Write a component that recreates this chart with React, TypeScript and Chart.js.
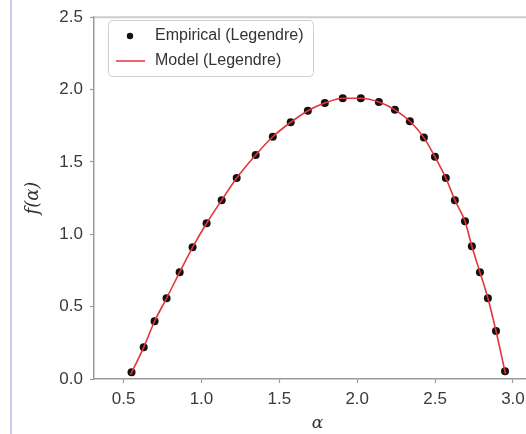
import React, { useEffect, useRef } from 'react';
import { Chart, registerables } from 'chart.js';

Chart.register(...registerables);

// Empirical f(alpha) spectrum
const alphaValues = [0.551, 0.629, 0.699, 0.776, 0.860, 0.943, 1.033, 1.130, 1.226, 1.348, 1.458, 1.573, 1.683, 1.792, 1.907, 2.023, 2.139, 2.242, 2.338, 2.428, 2.499, 2.569, 2.627, 2.692, 2.736, 2.788, 2.839, 2.891, 2.949];
const fValues = [0.047, 0.219, 0.399, 0.558, 0.738, 0.910, 1.076, 1.236, 1.389, 1.548, 1.674, 1.774, 1.854, 1.907, 1.940, 1.940, 1.914, 1.860, 1.781, 1.668, 1.535, 1.389, 1.236, 1.090, 0.917, 0.738, 0.558, 0.332, 0.053];

// Model curve (passes through the empirical points)
const modelAlpha = [0.545, 0.629, 0.699, 0.776, 0.860, 0.943, 1.033, 1.130, 1.226, 1.348, 1.458, 1.573, 1.683, 1.792, 1.907, 2.023, 2.139, 2.242, 2.338, 2.428, 2.499, 2.569, 2.627, 2.692, 2.736, 2.788, 2.839, 2.891, 2.952];
const modelF = [0.030, 0.219, 0.399, 0.558, 0.738, 0.910, 1.076, 1.236, 1.389, 1.548, 1.674, 1.774, 1.854, 1.907, 1.940, 1.940, 1.914, 1.860, 1.781, 1.668, 1.535, 1.389, 1.236, 1.090, 0.917, 0.738, 0.558, 0.332, 0.035];

const xTicks = [0.5, 1.0, 1.5, 2.0, 2.5, 3.0];
const yTicks = [0.0, 0.5, 1.0, 1.5, 2.0, 2.5];

const empiricalLabel = 'Empirical (Legendre)';
const modelLabel = 'Model (Legendre)';

const RED = '#e5333b';
const DOT = '#141010';

const boxLegend = {
  id: 'boxLegend',
  afterDraw(chart: any) {
    const ctx = chart.ctx as CanvasRenderingContext2D;
    const x0 = 108.5, y0 = 20.5, w = 205, h = 56;
    ctx.save();
    ctx.beginPath();
    (ctx as any).roundRect(x0, y0, w, h, 4);
    ctx.fillStyle = 'rgba(255,255,255,0.85)';
    ctx.fill();
    ctx.strokeStyle = '#cfcfcf';
    ctx.lineWidth = 1;
    ctx.stroke();
    const ds = chart.data.datasets;
    ctx.font = '16px "Liberation Sans", Arial, sans-serif';
    ctx.textBaseline = 'middle';
    ctx.textAlign = 'left';
    // row 1: dot
    ctx.beginPath();
    ctx.arc(130, 36, 3.2, 0, Math.PI * 2);
    ctx.fillStyle = DOT;
    ctx.fill();
    ctx.fillStyle = '#333';
    ctx.fillText(ds[1].label, 155, 36);
    // row 2: line
    ctx.beginPath();
    ctx.moveTo(116, 61);
    ctx.lineTo(145, 61);
    ctx.strokeStyle = RED;
    ctx.lineWidth = 1.5;
    ctx.stroke();
    ctx.fillText(ds[0].label, 155, 61);
    ctx.restore();
  },
};

const topSpine = {
  id: 'topSpine',
  afterDraw(chart: any) {
    const { ctx, chartArea } = chart;
    ctx.save();
    ctx.beginPath();
    ctx.moveTo(chartArea.left, chartArea.top);
    ctx.lineTo(chartArea.right, chartArea.top);
    ctx.strokeStyle = '#cccccc';
    ctx.lineWidth = 2;
    ctx.stroke();
    ctx.restore();
  },
};

export default function App() {
  const ref = useRef<HTMLCanvasElement | null>(null);

  useEffect(() => {
    if (!ref.current) return;
    const tickFont = { family: '"Liberation Sans", Arial, sans-serif', size: 17 };
    const chart = new Chart(ref.current, {
      type: 'scatter',
      data: {
        datasets: [
          {
            label: modelLabel,
            data: modelAlpha.map((a, i) => ({ x: a, y: modelF[i] })),
            showLine: true,
            borderColor: RED,
            borderWidth: 1.6,
            pointRadius: 0,
            cubicInterpolationMode: 'monotone',
            order: 0,
          } as any,
          {
            label: empiricalLabel,
            data: alphaValues.map((a, i) => ({ x: a, y: fValues[i] })),
            showLine: false,
            pointRadius: 4,
            pointBackgroundColor: DOT,
            pointBorderColor: DOT,
            pointBorderWidth: 0,
            order: 1,
          } as any,
        ],
      },
      options: {
        responsive: false,
        animation: false,
        layout: { padding: { left: 0, top: 6, right: 5, bottom: 0 } },
        plugins: { legend: { display: false }, tooltip: { enabled: false } },
        scales: {
          x: {
            type: 'linear',
            min: 0.31,
            max: 3.18,
            afterFit: (s: any) => { s.height = 55; },
            afterBuildTicks: (s: any) => { s.ticks = xTicks.map((v) => ({ value: v })); },
            ticks: {
              font: tickFont,
              color: '#3a3a3a',
              padding: 6,
              callback: (v: any) => Number(v).toFixed(1),
            },
            grid: { display: true, drawOnChartArea: false, drawTicks: true, tickLength: 4, color: '#999', tickWidth: 1.2 },
            border: { display: true, color: '#9a9a9a', width: 1.5 },
            title: {
              display: true,
              text: 'α',
              font: { family: '"DejaVu Serif", serif', size: 17, style: 'italic' },
              color: '#333',
              padding: { top: 0, bottom: 0 },
            },
          },
          y: {
            type: 'linear',
            min: 0,
            max: 2.5,
            afterFit: (s: any) => { s.width = 94; },
            afterBuildTicks: (s: any) => { s.ticks = yTicks.map((v) => ({ value: v })); },
            ticks: {
              font: tickFont,
              color: '#3a3a3a',
              padding: 7,
              callback: (v: any) => Number(v).toFixed(1),
            },
            grid: { display: true, drawOnChartArea: false, drawTicks: true, tickLength: 4, color: '#999', tickWidth: 1.2 },
            border: { display: true, color: '#9a9a9a', width: 1.5 },
            title: {
              display: true,
              text: 'f(α)',
              font: { family: '"DejaVu Serif", serif', size: 18, style: 'italic' },
              color: '#333',
              padding: { top: 23, bottom: 0 },
            },
          },
        },
      },
      plugins: [topSpine, boxLegend],
    });
    return () => chart.destroy();
  }, []);

  return (
    <div style={{ position: 'fixed', left: 0, top: 0, width: 526, height: 434, overflow: 'hidden', background: '#fff' }}>
      <div style={{ position: 'absolute', left: 10, top: 0, width: 2, height: 434, background: '#c8cdec' }} />
      <canvas ref={ref} width={546} height={434} style={{ display: 'block', width: 546, height: 434 }} />
    </div>
  );
}
